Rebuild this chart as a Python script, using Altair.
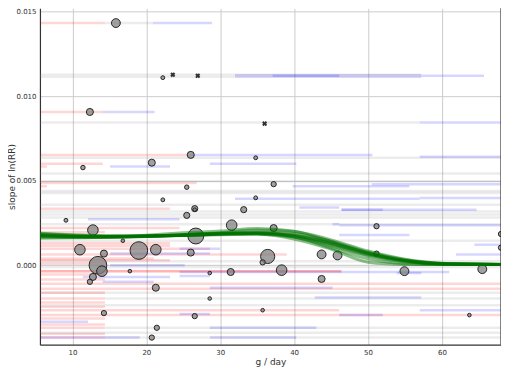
import altair as alt
import pandas as pd

# ---------------- study points (x = g/day, y = slope of ln(RR) in 1e-3 units, area in px^2)
pt_x = [15.88, 22.23, 12.36, 20.74, 26.01, 11.42, 34.80, 25.47, 37.23, 22.23, 34.80, 9.12,
        26.55, 26.55, 25.47, 33.18, 31.55, 37.23, 26.69, 12.77, 11.01, 14.26, 13.45, 13.99,
        12.77, 12.36, 16.82, 18.99, 21.28, 17.77, 21.28, 26.01, 14.26, 21.42, 20.74, 36.42,
        35.74, 28.58, 31.42, 38.31, 43.72, 45.88, 43.72, 28.58, 35.74, 26.55, 51.15, 51.15,
        54.93, 65.47, 63.72, 68.0, 68.0]
pt_y = [14.33, 11.10, 9.07, 6.07, 6.53, 5.78, 6.36, 4.62, 4.80, 3.87, 3.99, 2.66,
        3.35, 3.29, 2.95, 3.29, 2.37, 2.20, 1.73, 2.08, 0.92, 0.69, 0.00, -0.35,
        -0.69, -0.98, 1.45, 0.87, 0.92, -0.35, -1.33, 0.75, -2.83, -3.70, -4.28, 0.52,
        0.17, -0.46, -0.40, -0.29, 0.64, 0.58, -0.81, -1.97, -2.66, -3.01, 2.31, 0.69,
        -0.35, -0.23, -2.95, 1.85, 1.04]
pt_area = [79, 15, 50, 50, 50, 20, 15, 20, 28, 15, 15, 15,
           38, 13, 38, 38, 113, 50, 254, 113, 113, 50, 314, 113,
           50, 28, 13, 314, 113, 13, 50, 50, 28, 28, 28, 201,
           28, 13, 50, 113, 79, 79, 50, 13, 13, 28, 28, 28,
           79, 79, 13, 28, 28]

# studies without a weight (x markers)
cross_x = [23.58, 26.96, 36.01]
cross_y = [11.27, 11.21, 8.38]

# ---------------- exposure-range lines (y in 1e-3 units, start, end in g/day)
gray_y = [14.33, 11.21, 8.44, 6.36, 5.43, 4.97, 4.39, 4.28, 3.58, 3.18, 3.01, 2.83, 2.43,
          1.45, 0.23, -0.10, -1.62, -1.97, -2.37, -3.70, -3.99, -4.28]
gray_x0 = [14.4, 5.6, 5.6, 5.6, 5.6, 5.6, 5.6, 5.6, 5.6, 5.6, 5.6, 5.6, 5.6,
           5.6, 5.6, 5.6, 5.6, 14.4, 5.6, 14.4, 5.6, 14.4]
gray_x1 = [20.9, 57.2, 57.0, 68, 68, 68, 68, 68, 68, 68, 68, 68, 68,
           68, 68, 68, 68, 68, 68, 68, 68, 68]
gray_w = [2.5, 4.5] + [2.5] * 20

red_y = [14.33, 9.07, 6.53, 6.01, 5.84, 4.86, 4.68, 3.35, 2.20, 1.95, 1.30, 1.16, 0.98, 0.64,
         0.40, 0.30, 0.10, -0.35, -0.35, -0.55, -0.85, -1.10, -1.39, -1.62, -1.97, -2.20,
         -2.45, -2.66, -2.95, -3.15, -3.50, -3.70, -4.05, -4.28]
red_x0 = [5.6] * 34
red_x1 = [14.4, 14.1, 25.9, 14.1, 6.55, 26.8, 6.55, 23.2, 24.5, 14.4, 23.2, 23.2, 28.6, 39.0,
          21.0, 23.2, 14.4, 46.4, 46.4, 14.4, 14.4, 68, 68, 14.4, 14.4, 14.4,
          14.4, 46.1, 68, 14.4, 14.4, 14.4, 14.4, 14.4]

blue_y = [14.33, 11.21, 11.21, 11.21, 9.07, 8.44, 6.53, 6.42, 6.01, 5.84, 4.80, 4.68,
          3.93, 3.98, 3.41, 3.29, 3.29, 2.72, 2.43, 2.37, 1.79, 1.21, 0.98, 0.69, 0.64, 0.00,
          -0.40, -0.46, -0.64, -0.69, -0.98, -1.33, -1.91, -2.66, -2.89, -2.95, -3.35, -3.70,
          -4.28, -4.28]
blue_x0 = [20.9, 32.0, 37.1, 57.2, 14.1, 57.0, 25.9, 57.0, 28.6, 15.1, 50.5, 39.8,
           32.0, 57.0, 40.7, 46.4, 46.4, 12.1, 45.2, 46.1, 46.1, 64.4, 24.5, 15.1, 61.9, 15.1,
           24.5, 53.9, 24.5, 11.4, 14.1, 28.6, 42.8, 57.0, 24.5, 46.1, 5.6, 28.6,
           5.6, 28.6]
blue_x1 = [28.9, 57.2, 46.1, 65.7, 21.1, 68, 50.6, 68, 40.3, 23.2, 68, 55.6,
           57.0, 68, 46.1, 64.7, 52.0, 24.5, 46.1, 68, 55.6, 68, 30.0, 28.6, 68, 25.2,
           61.0, 57.2, 28.6, 23.2, 21.0, 45.2, 57.2, 68, 28.6, 52.0, 12.1, 43.0,
           19.1, 40.3]
blue_w = [2.5, 3.5] + [2.5] * 38

# ---------------- fitted curves (bootstrap replicates), y in 1e-3 units
curve_x = [5.6, 10, 15, 20, 25, 30, 35, 40, 45, 50, 55, 60, 68]
curves = [
    [1.78, 1.72, 1.69, 1.71, 1.77, 1.85, 1.90, 1.76, 1.30, 0.70, 0.28, 0.09, 0.05],
    [1.86, 1.78, 1.73, 1.73, 1.77, 1.84, 1.88, 1.74, 1.27, 0.67, 0.26, 0.08, 0.05],
    [1.70, 1.66, 1.66, 1.70, 1.77, 1.86, 1.93, 1.80, 1.34, 0.73, 0.30, 0.10, 0.05],
    [1.76, 1.70, 1.68, 1.71, 1.78, 1.88, 1.98, 1.88, 1.42, 0.78, 0.32, 0.10, 0.05],
    [1.82, 1.75, 1.70, 1.72, 1.76, 1.83, 1.86, 1.70, 1.20, 0.60, 0.23, 0.07, 0.05],
    [1.66, 1.65, 1.67, 1.73, 1.82, 1.93, 2.08, 2.00, 1.50, 0.84, 0.35, 0.12, 0.06],
    [1.90, 1.81, 1.74, 1.74, 1.76, 1.81, 1.83, 1.66, 1.14, 0.55, 0.20, 0.06, 0.04],
    [1.74, 1.69, 1.68, 1.71, 1.79, 1.88, 1.86, 1.55, 0.95, 0.18, 0.05, 0.04, 0.04],
    [1.60, 1.62, 1.67, 1.78, 1.92, 2.02, 2.18, 2.02, 1.40, 0.72, 0.27, 0.09, 0.05],
    [1.77, 1.71, 1.68, 1.72, 1.80, 1.89, 1.92, 1.68, 1.02, 0.38, 0.09, 0.04, 0.04],
]

S = 1e-3
pts = pd.DataFrame({"x": pt_x, "y": [v * S for v in pt_y], "s": pt_area}).sort_values("s", ascending=False)
crs = pd.DataFrame({"x": cross_x, "y": [v * S for v in cross_y]})
segs = pd.concat([
    pd.DataFrame({"y": gray_y, "x0": gray_x0, "x1": gray_x1, "kind": "gray", "w": gray_w}),
    pd.DataFrame({"y": red_y, "x0": red_x0, "x1": red_x1, "kind": "red", "w": 2.5}),
    pd.DataFrame({"y": blue_y, "x0": blue_x0, "x1": blue_x1, "kind": "blue", "w": blue_w}),
], ignore_index=True)
segs["y"] = segs["y"] * S
rows = []
for i, c in enumerate(curves):
    for xv, yv in zip(curve_x, c):
        rows.append({"curve": i, "x": xv, "y": yv * S})
cur = pd.DataFrame(rows)

W, H = 462, 337
FONT = "DejaVu Sans"

xscale = alt.Scale(domain=[5.6, 68.0], nice=False, zero=False)
yscale = alt.Scale(domain=[-0.0047, 0.0152], nice=False, zero=False)
xaxis = alt.Axis(title="g / day", values=[10, 20, 30, 40, 50, 60], format="d")
yaxis = alt.Axis(title="slope of ln(RR)", values=[0.0, 0.005, 0.010, 0.015], format=".3f")

seg_layer = alt.Chart(segs).mark_rule(clip=True).encode(
    x=alt.X("x0:Q", scale=xscale, axis=xaxis),
    x2="x1:Q",
    y=alt.Y("y:Q", scale=yscale, axis=yaxis),
    color=alt.Color("kind:N", legend=None,
                    scale=alt.Scale(domain=["gray", "red", "blue"],
                                    range=["#8a8a8a", "#ff0000", "#0000ff"])),
    opacity=alt.Opacity("kind:N", legend=None,
                        scale=alt.Scale(domain=["gray", "red", "blue"], range=[0.16, 0.16, 0.16])),
    strokeWidth=alt.StrokeWidth("w:Q", scale=None, legend=None),
)

pt_layer = alt.Chart(pts).mark_point(
    shape="circle", filled=True, fill="#7d7d7d", fillOpacity=0.72,
    stroke="#1e1e1e", strokeWidth=1, strokeOpacity=0.95, clip=True
).encode(
    x=alt.X("x:Q", scale=xscale, axis=xaxis),
    y=alt.Y("y:Q", scale=yscale, axis=yaxis),
    size=alt.Size("s:Q", scale=None, legend=None),
)

cross_layer = alt.Chart(crs).mark_point(
    shape="cross", angle=45, filled=True, color="#333333", size=26, opacity=1
).encode(
    x=alt.X("x:Q", scale=xscale, axis=xaxis),
    y=alt.Y("y:Q", scale=yscale, axis=yaxis),
)

curve_layer = alt.Chart(cur).mark_line(
    color="#007000", strokeWidth=3, opacity=0.45, interpolate="monotone", clip=True
).encode(
    x=alt.X("x:Q", scale=xscale, axis=xaxis),
    y=alt.Y("y:Q", scale=yscale, axis=yaxis),
    detail="curve:N",
)

right_spine = alt.Chart(pd.DataFrame({"a": [0]})).mark_rule(
    color="#333333", strokeWidth=1.2
).encode(x=alt.value(W), y=alt.value(0), y2=alt.value(H))

chart = alt.layer(seg_layer, pt_layer, cross_layer, curve_layer, right_spine).properties(
    width=W, height=H,
    autosize=alt.AutoSizeParams(type="none"),
    padding={"left": 32, "top": 0, "right": 0, "bottom": 23},
).configure_view(stroke=None).configure_axis(
    labelFont=FONT, titleFont=FONT, labelFontSize=7, titleFontSize=9,
    labelColor="#333333", titleColor="#333333", titleFontWeight="normal",
    grid=True, gridColor="#cccccc", gridWidth=1,
    domainColor="#333333", domainWidth=1.2, tickSize=0,
).configure_axisX(
    labelPadding=4, titlePadding=2,
).configure_axisY(
    labelPadding=4, titleX=-23,
)

chart.save("out.html", embed_options={"renderer": "svg", "actions": False})
